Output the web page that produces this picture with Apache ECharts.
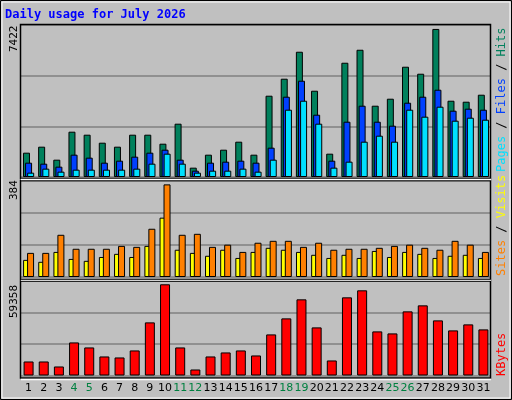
<!DOCTYPE html>
<html><head><meta charset="utf-8">
<script src="https://cdn.jsdelivr.net/npm/echarts@6/dist/echarts.min.js"></script>
<style>html,body{margin:0;padding:0;background:#c0c0c0}#c{width:512px;height:400px}</style>
</head><body><div id="c"></div>
<script>
const days = Array.from({length:31},(_,i)=>String(i+1));
const weekendDays = ['4','5','11','12','18','19','25','26'];
const hits  = [1219,1520,868,2271,2121,1720,1520,2121,2121,1670,2672,468,1119,1369,1770,1119,4075,4927,6279,4325,1169,5728,6379,3574,3925,5528,5177,7422,3824,3774,4125];
const files = [718,668,518,1119,969,718,818,1019,1219,1369,868,317,718,768,818,718,1470,4025,4826,3123,818,2772,3574,2772,2572,3724,4025,4375,3323,3424,3373];
const pages = [217,418,267,367,367,367,367,418,668,1169,668,217,317,317,418,267,868,3373,3824,2672,468,768,1770,2071,1770,3373,3023,3524,2822,2972,2872];
const sites = [71,63,104,75,67,83,96,83,129,246,113,100,88,113,79,104,121,113,104,92,79,92,79,108,83,104,96,79,88,92,79];
const visits= [100,100,175,117,117,117,129,125,200,384,175,179,125,134,104,142,150,150,125,142,113,117,117,121,129,134,121,113,150,134,104];
const kbytes= [9131,9131,5870,21523,18262,12392,11740,16305,34567,59358,18262,3913,12392,15000,16305,13044,26740,37175,49567,31306,9783,50872,55437,28697,27392,41741,45654,35871,29349,33262,30001];
const maxLabels = ['7422','384','59358'];

const chart = echarts.init(document.getElementById('c'));
const grids = [
  {left:21,right:21,top:25,height:152},
  {left:21,right:21,top:181,height:96},
  {left:21,right:21,top:281,height:94.5}
];
function xa(i,show){return {type:'category',gridIndex:i,data:days,
  axisLine:{show:false},axisTick:{show:false},
  axisLabel:{show:show,interval:0,margin:7,fontFamily:'DejaVu Sans',fontSize:11,
    color:v=>weekendDays.includes(v)?'#008040':'#000'}};}
function ya(i,max){return {type:'value',gridIndex:i,min:0,max:max,interval:max/3,
  axisLabel:{show:false},axisLine:{show:false},axisTick:{show:false},
  splitLine:{lineStyle:{color:'#808080',width:1.5}}};}
const bs = {borderColor:'#000',borderWidth:1};
function bar(name,data,color,xi,gap,w){return {name,type:'bar',data,xAxisIndex:xi,yAxisIndex:xi,
  barWidth:w||7,barGap:gap,itemStyle:Object.assign({color},bs),animation:false};}
const t = (x,y,text,rot,extra)=>({type:'text',x,y,rotation:rot,
  style:Object.assign({text,fontFamily:'DejaVu Sans Mono',fontSize:11},extra||{})});
const rs = c=>({fill:c,fontFamily:'DejaVu Sans Mono',fontSize:12});
chart.setOption({
  animation:false,
  backgroundColor:'#c0c0c0',
  grid:grids,
  xAxis:[xa(0,false),xa(1,false),xa(2,true)],
  yAxis:[ya(0,7620),ya(1,398),ya(2,61500)],
  series:[
    bar('Hits',hits,'#00805c',0,'-70%'),
    bar('Files',files,'#0040ff',0,'-70%'),
    bar('Pages',pages,'#00e0ff',0,'-70%'),
    bar('Sites',sites,'#ffff00',1,'-43%'),
    bar('Visits',visits,'#ff8000',1,'-43%'),
    bar('KBytes',kbytes,'#ff0000',2,'0%',10)
  ],
  graphic:[
    {type:'rect',shape:{x:0.5,y:0.5,width:511,height:399},style:{fill:null,stroke:'#000',lineWidth:1},z:0},
    {type:'rect',shape:{x:2,y:2,width:508,height:396},style:{fill:null,stroke:'#fff',lineWidth:1},z:0},
    {type:'rect',shape:{x:20.5,y:24.5,width:470,height:154},style:{fill:null,stroke:'#000',lineWidth:1.5},z:10},
    {type:'rect',shape:{x:20.5,y:180.5,width:470,height:99},style:{fill:null,stroke:'#000',lineWidth:1.5},z:10},
    {type:'rect',shape:{x:20.5,y:281,width:470,height:97},style:{fill:null,stroke:'#000',lineWidth:1.5},z:10},
    {type:'line',shape:{x1:21,y1:179.5,x2:491,y2:179.5},style:{stroke:'#fff',lineWidth:1.5},z:10},
    {type:'line',shape:{x1:21,y1:280.3,x2:491,y2:280.3},style:{stroke:'#fff',lineWidth:1},z:10},
    {type:'line',shape:{x1:21,y1:379.5,x2:491,y2:379.5},style:{stroke:'#fff',lineWidth:1.5},z:10},
    t(5,9,'Daily usage for July 2026',0,{fill:'#0000ff',fontWeight:'bold',fontSize:12}),
    t(9,52,maxLabels[0],Math.PI/2,{fill:'#000'}),
    t(9,200,maxLabels[1],Math.PI/2,{fill:'#000'}),
    t(9,318,maxLabels[2],Math.PI/2,{fill:'#000'}),
    {type:'text',x:496,y:172,rotation:Math.PI/2,style:{fontFamily:'DejaVu Sans Mono',fontSize:12,
      rich:{a:rs('#00e0ff'),b:rs('#000'),c:rs('#0040ff'),d:rs('#00805c')},
      text:'{a|Pages}{b| / }{c|Files}{b| / }{d|Hits}'}},
    {type:'text',x:496,y:276,rotation:Math.PI/2,style:{fontFamily:'DejaVu Sans Mono',fontSize:12,
      rich:{a:rs('#ff8000'),b:rs('#000'),c:rs('#ffff00')},
      text:'{a|Sites}{b| / }{c|Visits}'}},
    {type:'text',x:496,y:376,rotation:Math.PI/2,style:{fontFamily:'DejaVu Sans Mono',fontSize:12,fill:'#ff0000',text:'KBytes'}}
  ]
});
</script></body></html>
